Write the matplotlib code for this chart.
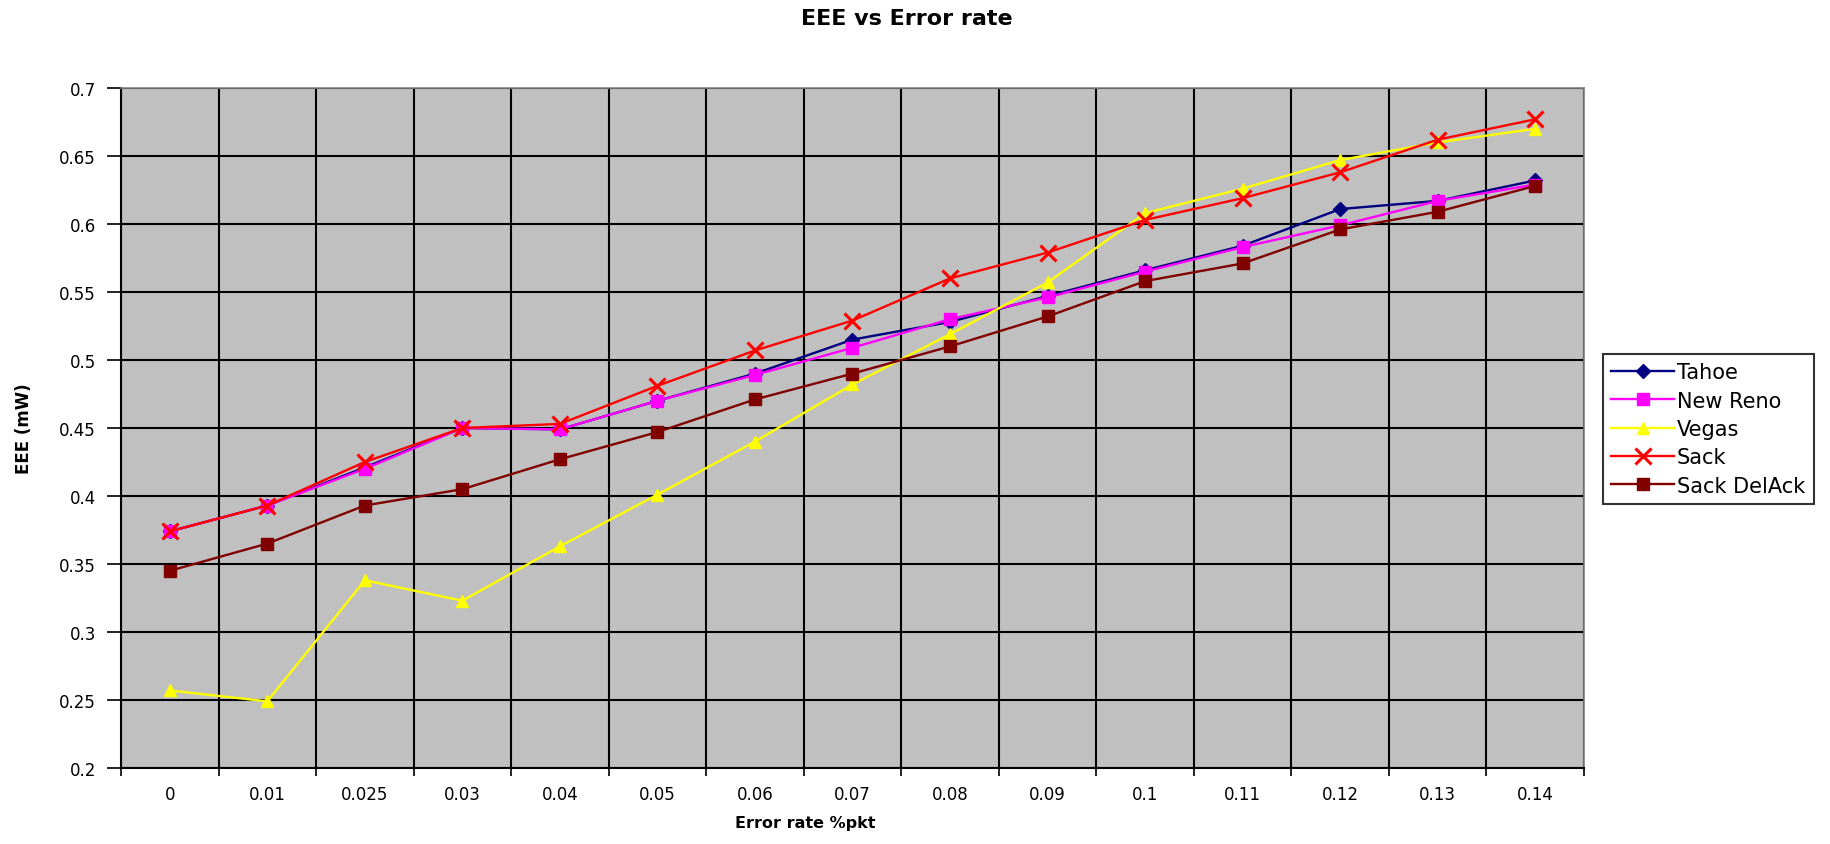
import matplotlib
matplotlib.use("Agg")
import matplotlib.pyplot as plt
import numpy as np

### data

error_rates = ['0', '0.01', '0.025', '0.03', '0.04', '0.05', '0.06', '0.07',
               '0.08', '0.09', '0.1', '0.11', '0.12', '0.13', '0.14']

tahoe    = [0.374, 0.393, 0.421, 0.450, 0.449, 0.470, 0.490, 0.515, 0.528, 0.547, 0.566, 0.584, 0.611, 0.617, 0.632]
new_reno = [0.374, 0.393, 0.420, 0.450, 0.449, 0.470, 0.489, 0.509, 0.530, 0.546, 0.565, 0.583, 0.599, 0.617, 0.629]
vegas    = [0.257, 0.249, 0.338, 0.323, 0.363, 0.401, 0.440, 0.482, 0.519, 0.557, 0.608, 0.626, 0.647, 0.660, 0.670]
sack     = [0.374, 0.393, 0.425, 0.450, 0.453, 0.481, 0.507, 0.529, 0.560, 0.579, 0.603, 0.619, 0.638, 0.662, 0.677]
sack_delack = [0.345, 0.365, 0.393, 0.405, 0.427, 0.447, 0.471, 0.490, 0.510, 0.532, 0.558, 0.571, 0.596, 0.609, 0.628]

series = [("Tahoe", tahoe, '#000080', 'D'),
          ("New Reno", new_reno, '#FF00FF', 's'),
          ("Vegas", vegas, '#FFFF00', '^'),
          ("Sack", sack, '#FF0000', 'x'),
          ("Sack DelAck", sack_delack, '#800000', 's')]

plt.rcParams['font.family'] = ['DejaVu Sans']

fig = plt.figure(figsize=(18.31, 8.45), dpi=100)
ax = fig.add_axes([121/1831, 1-769/845, (1584-121)/1831, (769-89)/845])
ax.set_facecolor('#C0C0C0')

x = np.arange(len(error_rates))
for name, vals, col, mk in series:
	if mk == 'x':
		ax.plot(x, vals, color=col, marker=mk, markersize=11, markeredgewidth=2.2, linewidth=1.7, label=name, zorder=3)
	elif mk == 'D':
		ax.plot(x, vals, color=col, marker=mk, markersize=7.5, linewidth=1.7, label=name, zorder=3)
	else:
		ax.plot(x, vals, color=col, marker=mk, markersize=8.5, linewidth=1.7, label=name, zorder=3)

ax.set_xlim(-0.5, len(error_rates)-0.5)
ax.set_ylim(0.2, 0.7)

ax.set_xticks(x)
ax.set_xticklabels(error_rates, fontsize=12)
ax.set_xticks(np.arange(-0.5, len(error_rates), 1.0), minor=True)
ax.tick_params(axis='x', which='major', length=0, pad=12)
ax.tick_params(axis='x', which='minor', length=6, width=1.2, direction='out')

yt = np.arange(0.2, 0.7001, 0.05)
ax.set_yticks(yt)
ax.set_yticklabels(["%g" % round(v, 2) for v in yt], fontsize=12)
ax.tick_params(axis='y', length=10, width=1.2, direction='out', pad=8)

ax.grid(True, which='minor', axis='x', color='black', linewidth=1.5)
ax.grid(True, which='major', axis='y', color='black', linewidth=1.5)
ax.set_axisbelow(True)

for s in ['top', 'right']:
	ax.spines[s].set_color('#808080')
	ax.spines[s].set_linewidth(1.2)
for s in ['left', 'bottom']:
	ax.spines[s].set_color('black')
	ax.spines[s].set_linewidth(1.5)

fig.text(907/1831, 1-19/845, "EEE vs Error rate", fontsize=16, fontweight='bold', ha='center', va='center')
fig.text(805/1831, 1-824/845, "Error rate %pkt", fontsize=11.5, fontweight='bold', ha='center', va='center')
fig.text(24/1831, 1-429/845, "EEE (mW)", fontsize=12, fontweight='bold', rotation=90, ha='center', va='center')

leg = fig.legend(loc='upper left', bbox_to_anchor=(1603/1831, 1-355/845), bbox_transform=fig.transFigure,
                 fontsize=15, frameon=True, fancybox=False, edgecolor='black', borderaxespad=0,
                 handlelength=3.0, handletextpad=0.15, labelspacing=0.4, borderpad=0.4)
leg.get_frame().set_linewidth(1.5)

plt.savefig("out.png", dpi=100)
